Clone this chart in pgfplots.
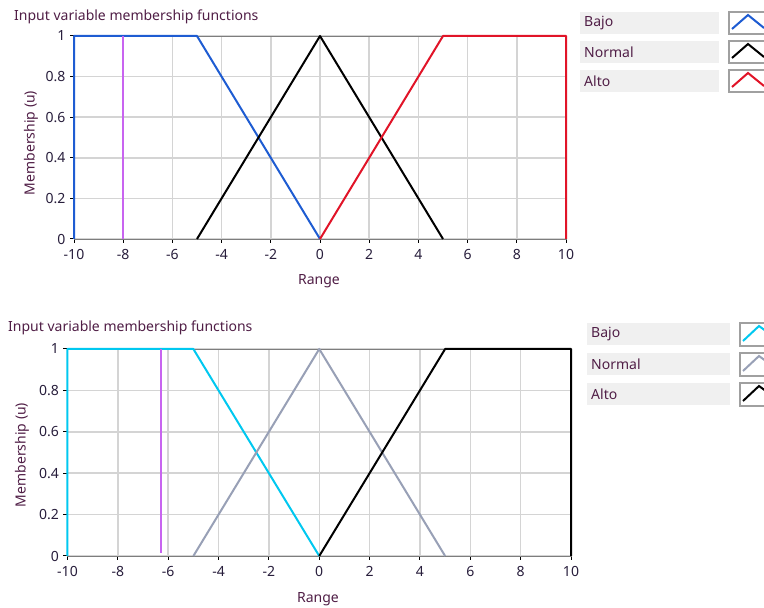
\documentclass[border=0pt]{standalone}
\usepackage{pgfplots}
\pgfplotsset{compat=1.18}
\usepackage{fontspec}
\setmainfont{Noto Sans}
\definecolor{cBlue}{RGB}{30,92,210}
\definecolor{cRed}{RGB}{225,20,40}
\definecolor{cCyan}{RGB}{0,200,240}
\definecolor{cGreyBlue}{RGB}{152,160,182}
\definecolor{cPurple}{RGB}{200,100,240}
\definecolor{cGrid}{RGB}{212,212,212}
\definecolor{cFrame}{RGB}{125,125,125}
\definecolor{cTick}{RGB}{40,30,60}
\definecolor{cLabel}{RGB}{80,30,70}
\definecolor{cBox}{RGB}{240,240,240}
\definecolor{cIcon}{RGB}{160,160,160}
\newcommand{\fs}{\fontsize{14}{16}\selectfont}
\pgfplotsset{
  mfstyle/.style={
    scale only axis,
    xmin=-10, xmax=10, ymin=0, ymax=1,
    xtick={-10,-8,-6,-4,-2,0,2,4,6,8,10},
    ytick={0,0.2,0.4,0.6,0.8,1},
    yticklabels={0,0.2,0.4,0.6,0.8,1},
    grid=major,
    major grid style={draw=cGrid, line width=1.5pt},
    axis line style={draw=cFrame, line width=0.8pt},
    tick align=outside,
    major tick length=4pt,
    tick style={draw=black, line width=1pt},
    xtick pos=bottom, ytick pos=left,
    tick label style={font=\fs, text=cTick},
    xticklabel style={yshift=-3pt},
    yticklabel style={xshift=-1pt},
    /pgf/number format/assume math mode=true,
    clip=false,
    line join=round,
  }
}
\begin{document}
\begin{tikzpicture}[x=1pt,y=1pt]
\useasboundingbox (0pt,0pt) rectangle (764pt,608pt);
\clip (0pt,0pt) rectangle (764pt,608pt);
\fill[white] (0pt,0pt) rectangle (764pt,608pt);

% ---------- top chart ----------
\begin{axis}[mfstyle, at={(74pt,369pt)}, anchor=south west, width=492pt, height=203pt]
\addplot[cBlue, line width=2pt] coordinates {(-10,0) (-10,1) (-5,1) (0,0)};
\addplot[black, line width=2pt] coordinates {(-5,0) (0,1) (5,0)};
\addplot[cRed, line width=2pt] coordinates {(0,0) (5,1) (10,1) (10,0)};
\addplot[cPurple, line width=2pt] coordinates {(-8,0) (-8,1)};
\end{axis}
\node[anchor=west, text=cLabel, font=\fs, inner sep=0] at (14pt,591pt) {Input variable membership functions};
\node[rotate=90, text=cLabel, font=\fs, inner sep=0] at (31pt,465pt) {Membership (u)};
\node[text=cLabel, font=\fs, inner sep=0] at (319pt,327pt) {Range};

% legend top
\foreach \yy/\lab in {12/Bajo,41/Normal,70/Alto}{
  \fill[cBox] (580pt,608pt-\yy pt) rectangle (719pt,586pt-\yy pt);
  \node[anchor=west, text=cLabel, font=\fs, inner sep=0] at (584pt,597pt-\yy pt) {\lab};
  \filldraw[fill=white, draw=cIcon, line width=1.2pt] (729pt,608pt-\yy pt) rectangle (780pt,586pt-\yy pt);
}
\draw[cBlue, line width=2pt] (732pt,579pt) -- (748pt,593pt) -- (764pt,580pt);
\draw[black, line width=2pt] (732pt,550pt) -- (748pt,564pt) -- (764pt,551pt);
\draw[cRed, line width=2pt] (732pt,521pt) -- (748pt,535pt) -- (764pt,522pt);

% ---------- bottom chart ----------
\begin{axis}[mfstyle, at={(67.5pt,52pt)}, anchor=south west, width=503.5pt, height=207pt]
\addplot[cCyan, line width=2pt] coordinates {(-10,0) (-10,1) (-5,1) (0,0)};
\addplot[cGreyBlue, line width=2pt] coordinates {(-5,0) (0,1) (5,0)};
\addplot[black, line width=2pt] coordinates {(0,0) (5,1) (10,1) (10,0)};
\addplot[cPurple, line width=2pt] coordinates {(-6.28,0.015) (-6.28,1)};
\end{axis}
\node[anchor=west, text=cLabel, font=\fs, inner sep=0] at (8pt,280pt) {Input variable membership functions};
\node[rotate=90, text=cLabel, font=\fs, inner sep=0] at (22pt,153pt) {Membership (u)};
\node[text=cLabel, font=\fs, inner sep=0] at (318pt,9pt) {Range};

% legend bottom
\foreach \yy/\lab in {323/Bajo,353/Normal,383/Alto}{
  \fill[cBox] (587pt,608pt-\yy pt) rectangle (730pt,586pt-\yy pt);
  \node[anchor=west, text=cLabel, font=\fs, inner sep=0] at (591pt,597pt-\yy pt) {\lab};
  \filldraw[fill=white, draw=cIcon, line width=1.2pt] (740pt,608pt-\yy pt) rectangle (790pt,585pt-\yy pt);
}
\draw[cCyan, line width=2pt] (743pt,267pt) -- (759pt,282pt) -- (770pt,274pt);
\draw[cGreyBlue, line width=2pt] (743pt,237pt) -- (759pt,252pt) -- (770pt,244pt);
\draw[black, line width=2pt] (743pt,207pt) -- (759pt,222pt) -- (770pt,214pt);
\end{tikzpicture}
\end{document}
